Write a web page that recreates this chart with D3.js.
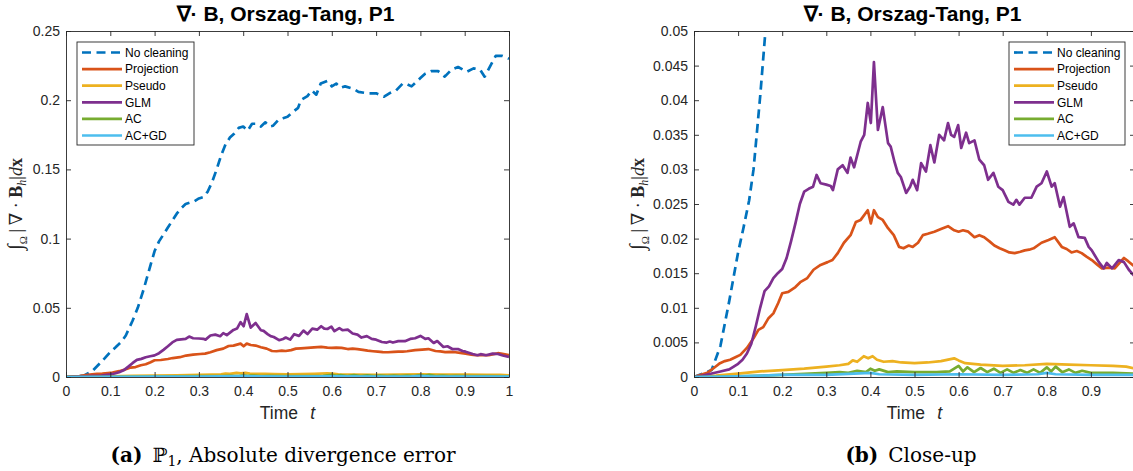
<!DOCTYPE html>
<html>
<head>
<meta charset="utf-8">
<script src="https://cdn.jsdelivr.net/npm/d3@7"></script>
<style>
  body { margin: 0; background: #fff; }
  svg { display: block; }
</style>
</head>
<body>
<svg id="chart" width="1133" height="471"></svg>
<script>
// Series values: [time, integral of |div B_h|]
const noCleaning = [[0,0],[0.04,0.001],[0.06,0.0045],[0.08,0.011],[0.10,0.018],[0.112,0.0215],[0.125,0.0255],[0.135,0.030],[0.15,0.0405],[0.162,0.050],[0.175,0.063],[0.19,0.080],[0.20,0.091],[0.21,0.098],[0.22,0.103],[0.23,0.108],[0.24,0.113],[0.25,0.118],[0.26,0.122],[0.27,0.125],[0.28,0.126],[0.29,0.127],[0.30,0.129],[0.31,0.130],[0.32,0.134],[0.33,0.141],[0.34,0.150],[0.35,0.160],[0.36,0.168],[0.37,0.173],[0.38,0.176],[0.39,0.180],[0.40,0.181],[0.41,0.178],[0.42,0.183],[0.43,0.183],[0.44,0.181],[0.45,0.184],[0.46,0.181],[0.467,0.1815],[0.48,0.186],[0.49,0.187],[0.50,0.188],[0.51,0.191],[0.524,0.1945],[0.53,0.200],[0.545,0.203],[0.555,0.207],[0.565,0.204],[0.575,0.212],[0.59,0.214],[0.60,0.210],[0.61,0.212],[0.62,0.209],[0.63,0.210],[0.65,0.208],[0.66,0.206],[0.68,0.205],[0.70,0.205],[0.718,0.2025],[0.73,0.205],[0.745,0.207],[0.76,0.212],[0.767,0.212],[0.78,0.210],[0.80,0.216],[0.81,0.219],[0.824,0.221],[0.84,0.221],[0.855,0.217],[0.87,0.222],[0.885,0.224],[0.905,0.2206],[0.92,0.223],[0.935,0.222],[0.945,0.217],[0.96,0.226],[0.97,0.232],[0.985,0.232],[1.0,0.230]];

const projection = [[0,0],[0.03,0.0006],[0.045,0.0013],[0.059,0.002],[0.07,0.0023],[0.082,0.0025],[0.095,0.0029],[0.105,0.0032],[0.12,0.0042],[0.135,0.0056],[0.146,0.0068],[0.157,0.0072],[0.169,0.0085],[0.18,0.0092],[0.191,0.0107],[0.20,0.0121],[0.214,0.0123],[0.23,0.013],[0.241,0.0137],[0.257,0.0143],[0.271,0.0155],[0.287,0.0162],[0.303,0.0166],[0.314,0.0169],[0.326,0.0179],[0.34,0.0194],[0.355,0.0205],[0.367,0.0224],[0.378,0.0227],[0.394,0.0241],[0.401,0.0222],[0.408,0.0241],[0.417,0.0231],[0.428,0.0227],[0.44,0.0215],[0.453,0.0205],[0.465,0.0188],[0.475,0.0186],[0.487,0.019],[0.496,0.0188],[0.508,0.0194],[0.519,0.0205],[0.53,0.0207],[0.545,0.021],[0.56,0.0214],[0.576,0.0218],[0.59,0.0212],[0.60,0.021],[0.61,0.0212],[0.622,0.021],[0.636,0.0202],[0.647,0.0205],[0.658,0.0202],[0.67,0.0196],[0.681,0.019],[0.693,0.0186],[0.704,0.0183],[0.715,0.018],[0.727,0.0179],[0.74,0.0181],[0.75,0.0183],[0.76,0.0184],[0.77,0.0186],[0.788,0.0194],[0.804,0.0198],[0.818,0.0202],[0.834,0.0188],[0.845,0.0185],[0.856,0.018],[0.868,0.0182],[0.879,0.0179],[0.89,0.0174],[0.902,0.0169],[0.915,0.0162],[0.925,0.0157],[0.94,0.0158],[0.954,0.0157],[0.965,0.0165],[0.975,0.0172],[0.985,0.0167],[1.0,0.0159]];

const pseudo = [[0,0],[0.05,0.0002],[0.1,0.0005],[0.15,0.0008],[0.2,0.001],[0.25,0.0012],[0.3,0.0015],[0.33,0.0017],[0.35,0.0019],[0.36,0.0024],[0.37,0.0022],[0.385,0.003],[0.395,0.0027],[0.405,0.003],[0.415,0.0025],[0.43,0.0022],[0.45,0.0023],[0.47,0.0021],[0.5,0.002],[0.53,0.0021],[0.56,0.0023],[0.59,0.0027],[0.60,0.0024],[0.615,0.002],[0.65,0.0018],[0.7,0.0016],[0.75,0.0017],[0.8,0.0019],[0.85,0.0018],[0.9,0.0017],[0.95,0.0016],[0.98,0.0015],[1.0,0.0012]];

const glm = [[0,0],[0.02,0.0002],[0.04,0.0005],[0.06,0.0008],[0.08,0.0011],[0.10,0.0019],[0.11,0.0025],[0.12,0.0034],[0.13,0.0048],[0.14,0.0073],[0.15,0.010],[0.16,0.0124],[0.17,0.0131],[0.18,0.0143],[0.19,0.015],[0.20,0.0156],[0.21,0.0172],[0.22,0.0196],[0.23,0.0222],[0.24,0.025],[0.25,0.0268],[0.26,0.0272],[0.27,0.0275],[0.278,0.0292],[0.287,0.028],[0.30,0.0278],[0.31,0.0276],[0.315,0.027],[0.326,0.030],[0.337,0.0306],[0.348,0.0295],[0.355,0.0317],[0.363,0.0303],[0.378,0.034],[0.386,0.035],[0.394,0.0396],[0.401,0.0367],[0.408,0.0455],[0.417,0.0357],[0.428,0.039],[0.44,0.0338],[0.446,0.0333],[0.455,0.031],[0.462,0.0295],[0.469,0.0289],[0.481,0.0266],[0.49,0.0275],[0.496,0.0285],[0.506,0.027],[0.515,0.0309],[0.526,0.0297],[0.536,0.0335],[0.545,0.031],[0.556,0.035],[0.567,0.0342],[0.576,0.0367],[0.583,0.035],[0.59,0.0347],[0.599,0.0364],[0.606,0.0331],[0.617,0.0353],[0.624,0.0338],[0.636,0.0342],[0.647,0.0314],[0.658,0.0306],[0.667,0.0285],[0.679,0.0295],[0.69,0.0275],[0.70,0.027],[0.713,0.0253],[0.724,0.0249],[0.731,0.0256],[0.738,0.0249],[0.75,0.0259],[0.765,0.0259],[0.777,0.0275],[0.788,0.028],[0.80,0.0297],[0.811,0.0275],[0.818,0.028],[0.83,0.0246],[0.838,0.026],[0.852,0.0217],[0.861,0.0222],[0.872,0.0202],[0.886,0.0201],[0.895,0.0188],[0.902,0.0183],[0.918,0.0166],[0.929,0.0157],[0.936,0.0165],[0.948,0.0157],[0.963,0.0169],[0.975,0.0166],[0.986,0.0155],[1.0,0.0145]];

const ac = [[0,0],[0.1,0.0001],[0.2,0.0003],[0.3,0.0006],[0.33,0.0007],[0.35,0.0006],[0.37,0.0009],[0.39,0.0007],[0.40,0.0012],[0.41,0.0009],[0.42,0.0011],[0.44,0.0007],[0.46,0.0008],[0.5,0.0007],[0.55,0.0007],[0.58,0.0008],[0.60,0.0016],[0.61,0.0008],[0.62,0.0014],[0.635,0.0007],[0.65,0.0013],[0.665,0.0007],[0.68,0.0012],[0.695,0.0006],[0.71,0.0011],[0.725,0.0006],[0.74,0.001],[0.755,0.0006],[0.77,0.0011],[0.785,0.0006],[0.80,0.0014],[0.81,0.0008],[0.82,0.0015],[0.835,0.0007],[0.85,0.0011],[0.865,0.0006],[0.88,0.0009],[0.9,0.0006],[0.95,0.0006],[1.0,0.0005]];

const acgd = [[0,0],[0.1,0.0001],[0.2,0.0003],[0.3,0.0003],[0.4,0.0006],[0.42,0.0004],[0.5,0.0003],[0.6,0.0004],[0.7,0.0003],[0.78,0.0004],[0.8,0.0006],[0.82,0.0004],[0.9,0.0003],[1.0,0.0003]];

const seriesNames = ["No cleaning", "Projection", "Pseudo", "GLM", "AC", "AC+GD"];
const seriesColors = ["#0072BD", "#D95319", "#EDB120", "#7E2F8E", "#77AC30", "#4DBEEE"];
const seriesData = [noCleaning, projection, pseudo, glm, ac, acgd];

const xTicks = [0, 0.1, 0.2, 0.3, 0.4, 0.5, 0.6, 0.7, 0.8, 0.9, 1];
const yTicksFull = [0, 0.05, 0.1, 0.15, 0.2, 0.25];
const yTicksZoom = [0, 0.005, 0.01, 0.015, 0.02, 0.025, 0.03, 0.035, 0.04, 0.045, 0.05];

const svg = d3.select("#chart");
const ink = "#262626";
const sans = "'Liberation Sans', Arial, sans-serif";

function drawPanel(cfg) {
    const x = d3.scaleLinear().domain([0, 1]).range([cfg.x0, cfg.x1]);
    const y = d3.scaleLinear().domain([0, cfg.yMax]).range([377, 31]);
    const g = svg.append("g");

    // clip lines to the plot box
    g.append("clipPath").attr("id", cfg.id + "-clip")
        .append("rect")
        .attr("x", cfg.x0).attr("y", 31)
        .attr("width", cfg.x1 - cfg.x0).attr("height", 346);

    const line = d3.line().x(d => x(d[0])).y(d => y(d[1]));
    const plot = g.append("g").attr("clip-path", "url(#" + cfg.id + "-clip)");
    seriesData.forEach((s, i) => {
        plot.append("path")
            .datum(s)
            .attr("d", line)
            .attr("fill", "none")
            .attr("stroke", seriesColors[i])
            .attr("stroke-width", 2.7)
            .attr("stroke-linejoin", "round")
            .attr("stroke-dasharray", i === 0 ? "9,5.5" : null);
    });

    // axes: inward ticks on all four sides, like the matlab box
    const fmt = d => (d === 0 ? "0" : d3.format("")(+d.toFixed(4)));
    const labTicks = xTicks.filter(t => x(t) <= 1132);
    const bottom = g.append("g").attr("transform", "translate(0,377)")
        .call(d3.axisBottom(x).tickValues(labTicks).tickSizeInner(-5).tickSizeOuter(0).tickPadding(9).tickFormat(fmt));
    const top = g.append("g").attr("transform", "translate(0,31)")
        .call(d3.axisTop(x).tickValues(labTicks).tickSizeInner(-5).tickSizeOuter(0).tickFormat(""));
    const left = g.append("g").attr("transform", "translate(" + cfg.x0 + ",0)")
        .call(d3.axisLeft(y).tickValues(cfg.yTicks).tickSizeInner(-5).tickSizeOuter(0).tickPadding(6).tickFormat(fmt));
    const right = g.append("g").attr("transform", "translate(" + cfg.x1 + ",0)")
        .call(d3.axisRight(y).tickValues(cfg.yTicks).tickSizeInner(-5).tickSizeOuter(0).tickFormat(""));
    [bottom, top, left, right].forEach(a => {
        a.select(".domain").attr("stroke", ink).attr("stroke-width", 0.9);
        a.selectAll(".tick line").attr("stroke", ink).attr("stroke-width", 0.9);
        a.selectAll("text").attr("fill", ink)
            .style("font-family", sans)
            .style("font-size", "14px");
    });

    // title
    svg.append("text")
        .attr("x", (cfg.x0 + cfg.x1) / 2 - 2).attr("y", 21)
        .attr("text-anchor", "middle")
        .style("font-family", sans)
        .style("font-size", "21px").style("font-weight", "bold")
        .attr("fill", "#000")
        .text("∇· B, Orszag-Tang, P1");

    // x label
    const xl = svg.append("text")
        .attr("x", (cfg.x0 + cfg.x1) / 2).attr("y", 419)
        .attr("text-anchor", "middle")
        .style("font-family", sans)
        .style("font-size", "17.5px").attr("fill", ink);
    xl.append("tspan").text("Time\u2002\u2009");
    xl.append("tspan").style("font-style", "italic").text("t");

    // y label (math)
    const yl = svg.append("text")
        .attr("transform", "translate(" + cfg.yLabX + ",204) rotate(-90)")
        .attr("text-anchor", "middle")
        .style("font-family", "'Liberation Serif', 'DejaVu Serif', serif")
        .style("font-size", "18px").attr("fill", ink);
    yl.append("tspan").style("font-style", "italic").style("font-size", "21px").text("∫");
    yl.append("tspan").attr("dy", 5).style("font-size", "11px").text("Ω");
    yl.append("tspan").attr("dy", -5).text("\u2009|\u2009∇ · ");
    yl.append("tspan").style("font-weight", "bold").text("B");
    yl.append("tspan").attr("dy", 4).style("font-size", "12px").style("font-style", "italic").text("h");
    yl.append("tspan").attr("dy", -4).text("|");
    yl.append("tspan").style("font-style", "italic").text("d");
    yl.append("tspan").style("font-weight", "bold").text("x");

    // legend
    const lg = g.append("g").attr("transform", "translate(" + cfg.legX + ",42)");
    lg.append("rect").attr("width", cfg.legW).attr("height", 103)
        .attr("fill", "#fff").attr("stroke", ink).attr("stroke-width", 0.9);
    seriesNames.forEach((n, i) => {
        const yy = 10.5 + i * 16.6;
        lg.append("line").attr("x1", 5).attr("x2", 45).attr("y1", yy).attr("y2", yy)
            .attr("stroke", seriesColors[i]).attr("stroke-width", 2.7)
            .attr("stroke-dasharray", i === 0 ? "9,5.5" : null);
        lg.append("text").attr("x", 48).attr("y", yy + 4.2)
            .style("font-family", sans)
            .style("font-size", "12px").attr("fill", "#000").text(n);
    });

    // caption
    const cap = svg.append("text")
        .attr("x", cfg.capX).attr("y", 462)
        .attr("text-anchor", "middle")
        .style("font-family", "'DejaVu Serif', serif")
        .style("font-size", "20px").attr("fill", "#000");
    cap.append("tspan").style("font-weight", "bold").text("(" + cfg.tag + ")");
    cfg.caption(cap);
}

drawPanel({
    id: "full", x0: 66, x1: 509, yMax: 0.25, yTicks: yTicksFull,
    yLabX: 22, legX: 77, legW: 117, capX: 283, tag: "a",
    caption: cap => {
        cap.append("tspan").text("\u2002ℙ");
        cap.append("tspan").attr("dy", 4).style("font-size", "14px").text("1");
        cap.append("tspan").attr("dy", -4).text(", Absolute divergence error");
    }
});

drawPanel({
    id: "zoom", x0: 694, x1: 1135, yMax: 0.05, yTicks: yTicksZoom,
    yLabX: 644, legX: 1009, legW: 116, capX: 911, tag: "b",
    caption: cap => {
        cap.append("tspan").text("\u2002Close-up");
    }
});
</script>
</body>
</html>
